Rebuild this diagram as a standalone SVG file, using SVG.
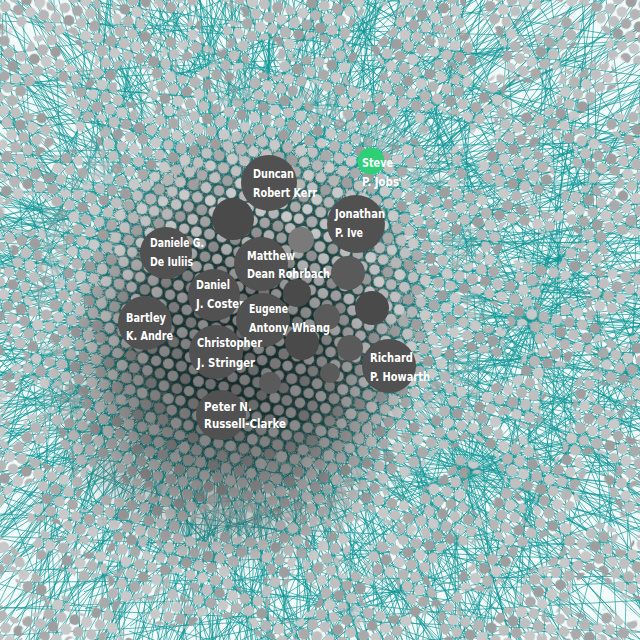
<svg xmlns="http://www.w3.org/2000/svg" xmlns:xlink="http://www.w3.org/1999/xlink" width="640" height="640" viewBox="0 0 640 640">
<style>
.e{fill:none;stroke:#0f9696;stroke-width:0.8;stroke-opacity:0.8}
.a{fill:#c0c0c0}.b{fill:#b6b6b6}.c{fill:#c9c9c9}.d{fill:#aaaaaa}.f{fill:#9e9e9e}
.n{fill:#515151}
.m1{fill:#5a5a5a}.m2{fill:#4a4a4a}.m3{fill:#7a7a7a}
.t{font-family:"Liberation Sans Narrow","DejaVu Sans Condensed","Liberation Sans",sans-serif;font-weight:bold;font-size:13px;fill:#ffffff}
</style>
<defs>
<path id="fan" vector-effect="non-scaling-stroke" d="M0 0L700 0M0 0L417 51M0 0L773 207M0 0L530 182M0 0L574 305M0 0L307 223M0 0L574 499M0 0L321 383M0 0L381 587M0 0L171 384M0 0L247 761M0 0L97 551M0 0L23 650M0 0L-33 379M0 0L-171 741M0 0L-171 470M0 0L-329 618M0 0L-235 348M0 0L-546 585M0 0L-429 360M0 0L-545 354M0 0L-344 161M0 0L-727 222M0 0L-492 87M0 0L-700 24M0 0L-418 -44M0 0L-779 -180M0 0L-523 -201M0 0L-563 -325M0 0L-307 -223M0 0L-537 -537M0 0L-308 -394M0 0L-350 -606M0 0L-150 -392M0 0L-207 -773M0 0L-68 -556M0 0L0 -650M0 0L53 -376M0 0L197 -734M0 0L195 -460M0 0L350 -606M0 0L259 -331M0 0L566 -566M0 0L441 -345M0 0L563 -325M0 0L352 -142M0 0L734 -197M0 0L496 -61"/>
<path id="chords" d="M-50 80L700 300M-20 400L660 120M100 -30L520 680M300 -40L60 690M-40 560L690 420M600 -30L-30 350M450 690L-40 210M680 620L120 -40M-30 250L680 520M200 680L650 -20M-50 30L420 690M690 80L250 690M-40 470L350 -40M400 -40L690 560M-40 150L300 690M690 350L100 690M560 690L690 200M-40 620L240 -40M540 -40L-40 560M160 -40L690 240M-40 320L560 690M690 480L380 -40M80 690L-40 380M690 30L470 690M-40 60L620 -30M-40 520L690 640M10 690L600 -40M280 690L690 300M-40 200L400 -40M640 660L-40 100M-40 660L690 -20M20 -40L60 690M580 -40L620 690M-40 20L690 40M-40 610L690 580"/>
<pattern id="dots" width="78" height="67.5" patternUnits="userSpaceOnUse" patternTransform="rotate(12)">
<circle class="a" cx="6.5" cy="5.6" r="5.3"/><circle class="d" cx="19.9" cy="5.8" r="5.4"/><circle class="c" cx="32.2" cy="5.6" r="5.2"/><circle class="b" cx="45.8" cy="5.7" r="5.5"/><circle class="a" cx="58.3" cy="5.6" r="5.3"/><circle class="f" cx="71.6" cy="5.6" r="5.4"/>
<circle class="b" cx="0" cy="16.9" r="5.4"/><circle class="b" cx="78" cy="16.9" r="5.4"/><circle class="c" cx="13.4" cy="17.3" r="5.5"/><circle class="a" cx="25.7" cy="16.6" r="5.2"/><circle class="d" cx="39.2" cy="17.1" r="5.6"/><circle class="a" cx="52.4" cy="16.5" r="5.3"/><circle class="c" cx="64.8" cy="17.2" r="5.4"/>
<circle class="f" cx="6.9" cy="28.3" r="5.5"/><circle class="a" cx="19.3" cy="27.8" r="5.3"/><circle class="b" cx="32.8" cy="28.4" r="5.6"/><circle class="c" cx="45.3" cy="28.0" r="5.2"/><circle class="a" cx="58.8" cy="28.3" r="5.4"/><circle class="d" cx="71.3" cy="27.9" r="5.3"/>
<circle class="a" cx="0" cy="39.4" r="5.4"/><circle class="a" cx="78" cy="39.4" r="5.4"/><circle class="d" cx="12.8" cy="39.1" r="5.3"/><circle class="c" cx="26.3" cy="39.7" r="5.5"/><circle class="a" cx="38.7" cy="39.2" r="5.2"/><circle class="b" cx="52.1" cy="39.8" r="5.6"/><circle class="f" cx="65.3" cy="39.3" r="5.3"/>
<circle class="c" cx="6.3" cy="50.8" r="5.4"/><circle class="b" cx="19.6" cy="50.4" r="5.5"/><circle class="a" cx="32.4" cy="50.9" r="5.3"/><circle class="f" cx="45.9" cy="50.5" r="5.4"/><circle class="c" cx="58.2" cy="50.7" r="5.6"/><circle class="a" cx="71.7" cy="50.4" r="5.2"/>
<circle class="d" cx="0" cy="61.9" r="5.3"/><circle class="d" cx="78" cy="61.9" r="5.3"/><circle class="a" cx="13.2" cy="61.7" r="5.4"/><circle class="f" cx="26.1" cy="62.0" r="5.3"/><circle class="c" cx="39.4" cy="61.8" r="5.5"/><circle class="b" cx="51.8" cy="61.9" r="5.4"/><circle class="a" cx="65.2" cy="61.6" r="5.3"/>
</pattern>
<filter id="nz" x="0" y="0" width="640" height="640" filterUnits="userSpaceOnUse" color-interpolation-filters="sRGB">
<feTurbulence type="fractalNoise" baseFrequency="0.026" numOctaves="2" seed="7"/>
<feColorMatrix type="matrix" values="0 0 0 0 1 0 0 0 0 1 0 0 0 0 1 26 0 0 0 -11.4"/>
</filter>
<radialGradient id="core" cx="255" cy="305" r="240" gradientUnits="userSpaceOnUse">
<stop offset="0" stop-color="#fff"/><stop offset="0.78" stop-color="#fff"/><stop offset="1" stop-color="#fff" stop-opacity="0"/>
</radialGradient>
<mask id="mk" maskUnits="userSpaceOnUse" x="0" y="0" width="640" height="640">
<rect width="640" height="640" filter="url(#nz)"/>
<rect width="640" height="640" fill="url(#core)"/>
</mask>
<radialGradient id="under" cx="255" cy="310" r="185" gradientUnits="userSpaceOnUse">
<stop offset="0" stop-color="#1e2b2b" stop-opacity="0.9"/><stop offset="0.6" stop-color="#1e3434" stop-opacity="0.75"/><stop offset="1" stop-color="#1e3434" stop-opacity="0"/>
</radialGradient>
<radialGradient id="shade" cx="230" cy="390" r="185" gradientUnits="userSpaceOnUse">
<stop offset="0" stop-color="#000" stop-opacity="0.42"/><stop offset="0.55" stop-color="#000" stop-opacity="0.28"/><stop offset="1" stop-color="#000" stop-opacity="0"/>
</radialGradient>
</defs>
<rect width="640" height="640" fill="#f2fafa"/>
<g id="edges" class="e">
<use href="#chords"/>
<use href="#chords" transform="rotate(33 320 320)"/>
<use href="#chords" transform="rotate(71 320 320)"/>
<use href="#chords" transform="rotate(118 320 320)"/>
<use href="#chords" transform="rotate(167 320 320)"/>
<use href="#chords" transform="rotate(215 320 320)"/>
<use href="#chords" transform="rotate(264 320 320)"/>
<use href="#chords" transform="rotate(311 320 320)"/>
<use href="#chords" transform="rotate(90 320 320) translate(17 -23)"/>
<use href="#chords" transform="rotate(190 320 320) translate(-31 11)"/>
<use href="#fan" transform="translate(269 183)"/>
<use href="#fan" transform="translate(356 224) rotate(3)"/>
<use href="#fan" transform="translate(166 253) rotate(5.5)"/>
<use href="#fan" transform="translate(261 264) rotate(2)"/>
<use href="#fan" transform="translate(214 295) rotate(4.3)"/>
<use href="#fan" transform="translate(263 320) rotate(1.2)"/>
<use href="#fan" transform="translate(145 323) rotate(6)"/>
<use href="#fan" transform="translate(216 352) rotate(2.7)"/>
<use href="#fan" transform="translate(389 366) rotate(3.8)"/>
<use href="#fan" transform="translate(221 415) rotate(5)"/>
<use href="#fan" transform="translate(371 161) rotate(1.7)"/>
<use href="#fan" transform="translate(233 219) rotate(4.9)"/>
<use href="#fan" transform="translate(300 290) rotate(0.6)"/>
<use href="#fan" transform="translate(330 250) rotate(2.3)"/>
<use href="#fan" transform="translate(190 380) rotate(3.4)"/>
<use href="#fan" transform="translate(290 420) rotate(6.8)"/>
<use href="#fan" transform="translate(530 318) scale(0.5) rotate(10)"/>
<use href="#fan" transform="translate(470 470) scale(0.55) rotate(20)"/>
</g>
<ellipse cx="255" cy="310" rx="185" ry="185" fill="url(#under)"/>
<rect width="640" height="640" fill="url(#dots)" mask="url(#mk)"/>
<rect width="640" height="640" fill="url(#shade)"/>
<g id="hubs">
<circle class="m2" cx="233" cy="219" r="21"/>
<circle class="m3" cx="301" cy="240" r="13"/>
<circle class="m1" cx="348" cy="273" r="17"/>
<circle class="m2" cx="297" cy="293" r="14"/>
<circle class="m2" cx="372" cy="308" r="17"/>
<circle class="m1" cx="327" cy="317" r="13"/>
<circle class="m2" cx="302" cy="343" r="17"/>
<circle class="m1" cx="350" cy="348" r="13"/>
<circle class="m1" cx="330" cy="373" r="10"/>
<circle class="m1" cx="270" cy="383" r="11"/>
</g>
<g id="duncan"><circle class="n" cx="269" cy="183" r="28"/><text class="t" x="253" y="178" textLength="41" lengthAdjust="spacingAndGlyphs">Duncan</text><text class="t" x="253" y="197" textLength="64" lengthAdjust="spacingAndGlyphs">Robert Kerr</text></g>
<g id="jonathan"><circle class="n" cx="356" cy="224" r="29"/><text class="t" x="335" y="218" textLength="50" lengthAdjust="spacingAndGlyphs">Jonathan</text><text class="t" x="335" y="237" textLength="28" lengthAdjust="spacingAndGlyphs">P. Ive</text></g>
<g id="daniele"><circle class="n" cx="166" cy="253" r="26"/><text class="t" x="150" y="247" textLength="54" lengthAdjust="spacingAndGlyphs">Daniele G.</text><text class="t" x="150" y="266" textLength="43" lengthAdjust="spacingAndGlyphs">De Iuliis</text></g>
<g id="matthew"><circle class="n" cx="261" cy="264" r="27"/><text class="t" x="247" y="260" textLength="48" lengthAdjust="spacingAndGlyphs">Matthew</text><text class="t" x="247" y="278" textLength="83" lengthAdjust="spacingAndGlyphs">Dean Rohrbach</text></g>
<g id="daniel"><circle class="n" cx="214" cy="295" r="26"/><text class="t" x="196" y="289" textLength="34" lengthAdjust="spacingAndGlyphs">Daniel</text><text class="t" x="196" y="308" textLength="48" lengthAdjust="spacingAndGlyphs">J. Coster</text></g>
<g id="eugene"><circle class="n" cx="263" cy="320" r="27"/><text class="t" x="249" y="313" textLength="39" lengthAdjust="spacingAndGlyphs">Eugene</text><text class="t" x="249" y="332" textLength="81" lengthAdjust="spacingAndGlyphs">Antony Whang</text></g>
<g id="bartley"><circle class="n" cx="145" cy="323" r="27"/><text class="t" x="126" y="322" textLength="40" lengthAdjust="spacingAndGlyphs">Bartley</text><text class="t" x="126" y="340" textLength="47" lengthAdjust="spacingAndGlyphs">K. Andre</text></g>
<g id="christopher"><circle class="n" cx="216" cy="352" r="27"/><text class="t" x="197" y="347" textLength="65" lengthAdjust="spacingAndGlyphs">Christopher</text><text class="t" x="197" y="367" textLength="58" lengthAdjust="spacingAndGlyphs">J. Stringer</text></g>
<g id="richard"><circle class="n" cx="389" cy="366" r="27"/><text class="t" x="370" y="362" textLength="43" lengthAdjust="spacingAndGlyphs">Richard</text><text class="t" x="370" y="381" textLength="60" lengthAdjust="spacingAndGlyphs">P. Howarth</text></g>
<g id="peter"><circle class="n" cx="221" cy="415" r="25"/><text class="t" x="204" y="411" textLength="48" lengthAdjust="spacingAndGlyphs">Peter N.</text><text class="t" x="204" y="428" textLength="82" lengthAdjust="spacingAndGlyphs">Russell-Clarke</text></g>
<g id="steve"><circle cx="371" cy="161" r="13.5" fill="#2fcf78"/><text class="t" x="362" y="167" textLength="31" lengthAdjust="spacingAndGlyphs">Steve</text><text class="t" x="362" y="186" textLength="37" lengthAdjust="spacingAndGlyphs">P. Jobs</text></g>
</svg>
